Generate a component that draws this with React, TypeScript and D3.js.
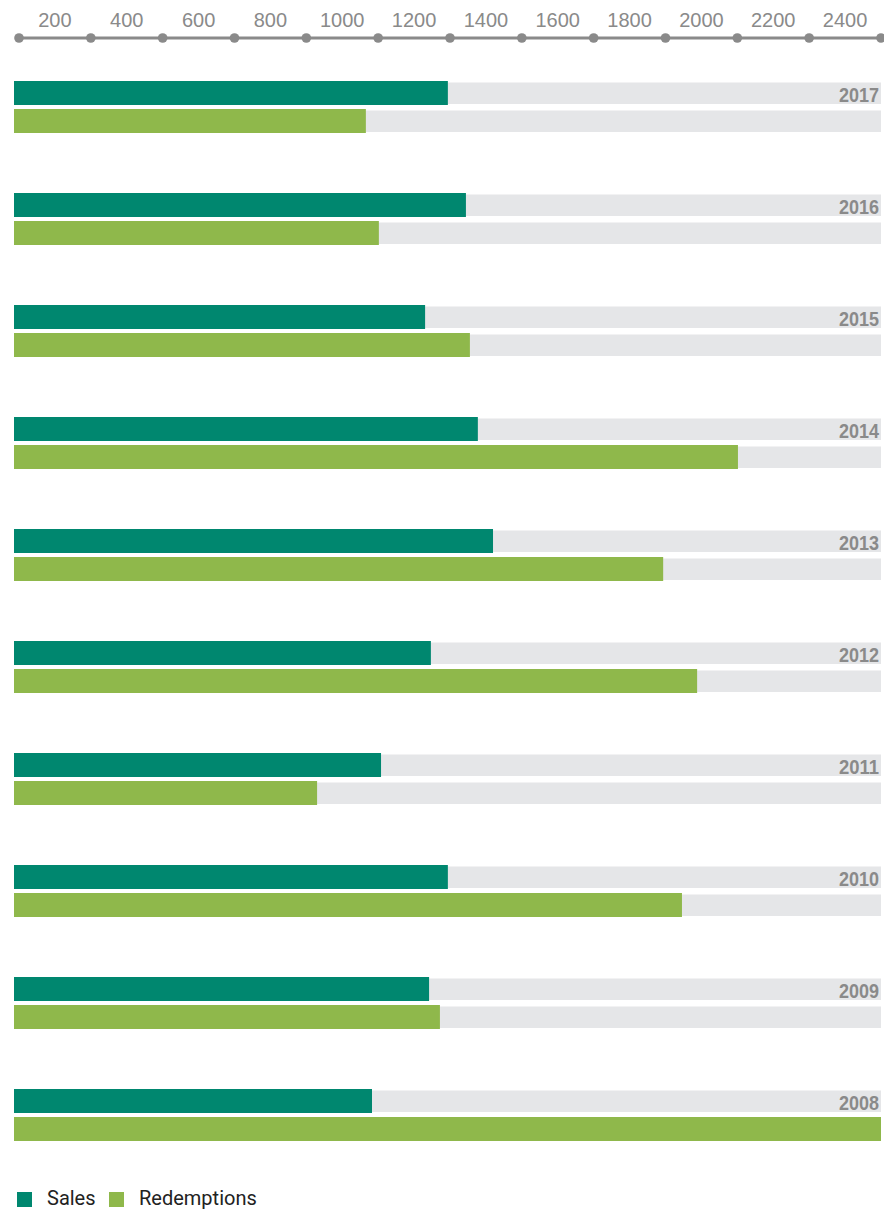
import React from "react";
import * as d3 from "d3";

const years = ["2017", "2016", "2015", "2014", "2013", "2012", "2011", "2010", "2009", "2008"];
const sales = [1201, 1251, 1138, 1284, 1326, 1154, 1016, 1201, 1149, 991];
const redemptions = [974, 1010, 1262, 2004, 1797, 1891, 839, 1849, 1179, 2400];
const axisTicks = [0, 200, 400, 600, 800, 1000, 1200, 1400, 1600, 1800, 2000, 2200, 2400];
const legendItems = ["Sales", "Redemptions"];

const W = 884;
const H = 1210;
const SALES_COLOR = "#00876f";
const RED_COLOR = "#8fb84b";
const BG_COLOR = "#e5e6e8";
const AXIS_COLOR = "#8a8a8a";

export default function App() {
  const x = d3.scaleLinear().domain([0, 2400]).range([14, 881]);
  const axisX = d3.scaleLinear().domain([0, 2400]).range([19, 881]);
  const rowY = d3.scaleLinear().domain([0, 1]).range([81, 193]);
  const barH = 24;
  const offset = 28;
  const colors = [SALES_COLOR, RED_COLOR];

  return (
    <svg width={W} height={H} style={{ position: "absolute", left: 0, top: 0, display: "block" }}>
      {/* axis */}
      <line x1={axisX(0)} x2={axisX(2400)} y1={38} y2={38} stroke={AXIS_COLOR} strokeWidth={3} />
      {axisTicks.map((t) => (
        <circle key={"d" + t} cx={axisX(t)} cy={38} r={4.8} fill={AXIS_COLOR} />
      ))}
      {axisTicks.slice(1).map((t) => (
        <text
          key={"l" + t}
          x={(axisX(t - 200) + axisX(t)) / 2}
          y={27}
          textAnchor="middle"
          fontFamily="'Liberation Sans', Arial, sans-serif"
          fontSize={20}
          fill={AXIS_COLOR}
        >
          {t}
        </text>
      ))}

      {years.map((yr, i) => {
        const top = rowY(i);
        const vals = [sales[i], redemptions[i]];
        return (
          <g key={yr}>
            {vals.map((v, k) => (
              <g key={k}>
                <rect x={x(0)} y={top + k * offset + 1.5} width={x(2400) - x(0)} height={barH - 2.5} fill={BG_COLOR} />
                <rect x={x(0)} y={top + k * offset} width={x(v) - x(0)} height={barH} fill={colors[k]} />
              </g>
            ))}
            <text
              x={879}
              y={top + 21}
              textAnchor="end"
              fontFamily="'Liberation Sans', Arial, sans-serif"
              fontWeight={700}
              fontSize={21}
              textLength={40}
              lengthAdjust="spacingAndGlyphs"
              fill={AXIS_COLOR}
            >
              {yr}
            </text>
          </g>
        );
      })}

      {/* legend */}
      {legendItems.map((name, k) => {
        const lx = k === 0 ? 17 : 109;
        return (
          <g key={name}>
            <rect x={lx} y={1192} width={15} height={15} fill={colors[k]} />
            <text x={lx + 30} y={1205} fontFamily="Roboto, sans-serif" fontSize={20} fill="#222">
              {name}
            </text>
          </g>
        );
      })}
    </svg>
  );
}
